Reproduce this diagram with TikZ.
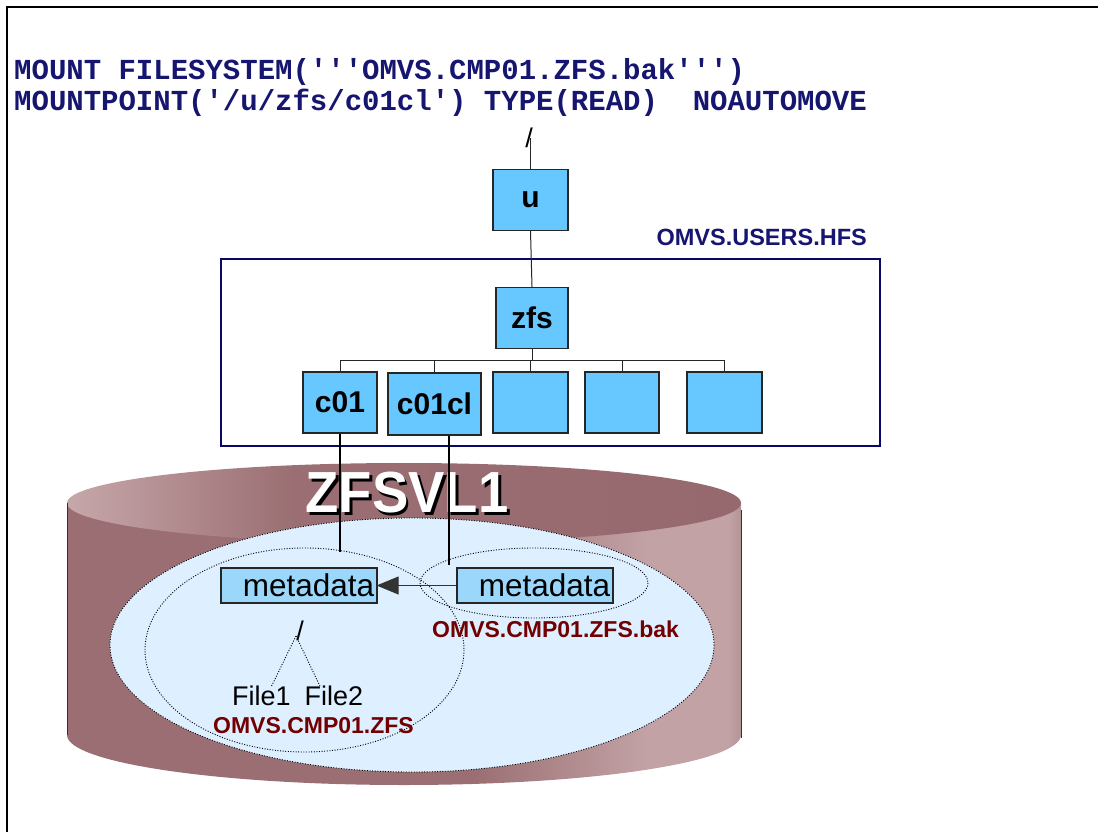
\documentclass[tikz,border=0pt]{standalone}
\usepackage{fontspec}
\usepackage{graphicx}
\setmainfont{Liberation Sans}
\newfontfamily\cmdfont{Liberation Mono}[Ligatures=TeXOff]
\usetikzlibrary{arrows.meta,calc}

\definecolor{navytext}{RGB}{22,22,112}
\definecolor{navyline}{RGB}{8,8,105}
\definecolor{darkred}{RGB}{115,0,0}
\definecolor{dirfill}{RGB}{102,200,255}
\definecolor{metafill}{RGB}{155,215,250}
\definecolor{poolfill}{RGB}{222,240,255}
\definecolor{cylLight}{RGB}{198,167,170}
\definecolor{cylDark}{RGB}{154,110,114}
\definecolor{cylDeep}{RGB}{150,105,110}
\definecolor{cylPale}{RGB}{194,162,165}

% volume body: dark on the left, paler towards the right edge
\pgfdeclarehorizontalshading{volbody}{100bp}{color(0bp)=(cylDark); color(25bp)=(cylDark); color(55bp)=(cylDark); color(68bp)=(cylPale); color(74bp)=(cylPale); color(75bp)=(cylPale!92!black); color(100bp)=(cylPale!92!black)}
% volume lid: pale on the left, darkening to the right
\pgfdeclarehorizontalshading{vollid}{100bp}{color(0bp)=(cylLight); color(25bp)=(cylLight); color(42bp)=(cylDark); color(75bp)=(cylDeep); color(100bp)=(cylDeep)}

% white title with a black drop shadow, set in one box
\newcommand{\shadowtitle}[1]{\makebox[0pt][l]{\hspace*{3pt}\raisebox{-3pt}{\color{black}#1}}\color{white}#1}

\begin{document}
\begin{tikzpicture}[x=1pt,y=-1pt,
  dirbox/.style={draw=black!85, line width=1.2pt, fill=dirfill, minimum width=#1,
    minimum height=61pt, inner sep=0pt, font=\bfseries\fontsize{30}{32}\selectfont},
  dirbox/.default=75pt,
  metabox/.style={draw=black!85, line width=1.2pt, fill=metafill, minimum width=156pt,
    minimum height=35pt, inner xsep=2pt, inner ysep=0pt, font=\fontsize{31.5}{33}\selectfont},
  cmdtext/.style={anchor=base west, inner sep=0pt, text=navytext,
    font=\cmdfont\bfseries\fontsize{29}{31}\selectfont},
  dsname/.style={inner sep=0pt, text=darkred, font=\bfseries\fontsize{23}{25}\selectfont},
  plain/.style={inner sep=0pt, font=\fontsize{27}{29}\selectfont},
  treeline/.style={draw=black!85, line width=1pt},
  mountline/.style={draw=black, line width=2.4pt},
  fsring/.style={draw=black, line width=0.9pt, dash pattern=on 1pt off 1.6pt}
]
\useasboundingbox (0,0) rectangle (1098,832);
\fill[white] (0,0) rectangle (1098,832);
\draw[line width=1.4pt] (7,832) -- (7,7) -- (1098,7);

% mount command
\node[cmdtext] (cmd1) at (14,80) {MOUNT FILESYSTEM('''OMVS.CMP01.ZFS.bak''')};
\node[cmdtext] (cmd2) at (14,111) {MOUNTPOINT('/u/zfs/c01cl') TYPE(READ)\ \ NOAUTOMOVE};

% root file system tree
\node[plain, anchor=base] (root) at (529,148) {/};
\node[dirbox] (u) at (530.5,200) {u};
\node[inner sep=0pt, anchor=base east, text=navytext, font=\bfseries\fontsize{23.5}{25}\selectfont] (hfsname) at (867,245) {OMVS.USERS.HFS};
\node[draw=navyline, line width=2.6pt, minimum width=659pt, minimum height=187pt, inner sep=0pt] (hfs) at (550.5,352.5) {};
\node[dirbox=72pt] (zfs) at (532,318) {zfs};
\node[dirbox=74pt] (c01) at (340,402.5) {c01};
\node[dirbox=93pt, minimum height=62pt] (c01cl) at (434.5,404) {c01cl};
\node[dirbox] (d3) at (530.5,402.5) {};
\node[dirbox=74pt] (d4) at (622,402.5) {};
\node[dirbox] (d5) at (724.5,402.5) {};

\draw[treeline] (u.north) -- (u.north |- root.center);
\draw[treeline] (u.south) -- (zfs.north);
\coordinate (bar) at (532,360);
\draw[treeline] (zfs.south) -- (bar);
\draw[treeline] (c01.north |- bar) -- (d5.north |- bar);
\foreach \d in {c01,c01cl,d3,d4,d5}
  \draw[treeline] (\d.north) -- (\d.north |- bar);

% the zFS aggregate as a disk volume
\shade[shading=volbody] (67,503) rectangle (741,735);
\shade[shading=volbody] (404,735) ellipse [x radius=337, y radius=50];
\shade[shading=vollid] (404,503) ellipse [x radius=337, y radius=40];
\draw[black!80, line width=1pt] (67,503) -- (67,735);
\draw[black!80, line width=1pt] (741,510) -- (741,738);

% aggregate contents
\fill[poolfill] (412,645) ellipse [x radius=302, y radius=127];
\draw[fsring] (412,645) ellipse [x radius=302, y radius=127];
\draw[fsring] (304.5,650) ellipse [x radius=159.5, y radius=102];
\draw[fsring] (534,583) ellipse [x radius=114, y radius=35];

\node[inner sep=0pt, anchor=base, font=\bfseries\fontsize{58}{60}\selectfont] (vol) at (407,512) {\scalebox{0.94}[1]{\shadowtitle{ZFSVL1}}};

\node[metabox] (metaL) at (299,585.5) {\hspace*{19pt}metadata};
\node[metabox] (metaR) at (535,585.5) {\hspace*{19pt}metadata};
\draw[black!80, line width=1pt, -{Triangle[length=22pt,width=18pt]}, shorten >=-1pt] (metaR.west) -- (metaL.east);

\node[dsname, anchor=base west] (bakname) at (432,637) {OMVS.CMP01.ZFS.bak};

\node[plain, anchor=base] (froot) at (300,640) {/};
\node[plain, anchor=base] (file1) at (261.5,705) {File1};
\node[plain, anchor=base] (file2) at (334,705) {File2};
\coordinate (fork) at (296,636);
\draw[fsring] (fork) -- ($(file1.north)+(10,1)$);
\draw[fsring] (fork) -- ($(file2.north)+(-14,1)$);
\node[dsname, anchor=base] (zfsname) at (313.5,733) {OMVS.CMP01.ZFS};

% mount points into the aggregate
\coordinate (c01end) at (340,552);
\coordinate (c01clend) at (449,565);
\draw[mountline] (c01.south) -- (c01end);
\draw[mountline] (c01clend |- c01cl.south) -- (c01clend);
\end{tikzpicture}
\end{document}
